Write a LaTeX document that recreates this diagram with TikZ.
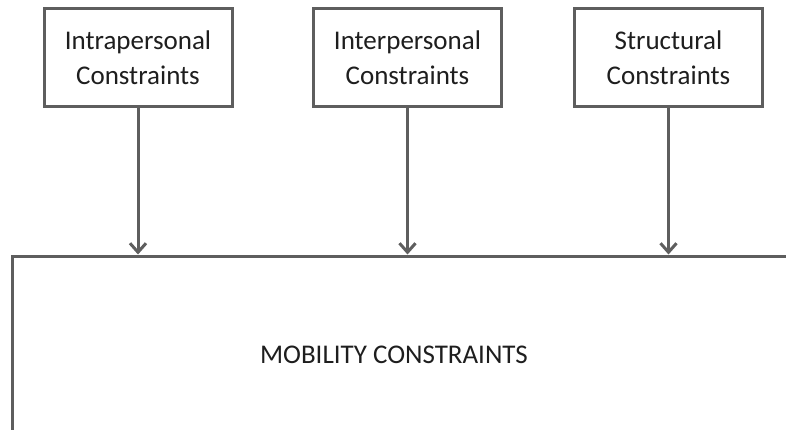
\documentclass[tikz,border=0pt]{standalone}
\usepackage{fontspec}
\setmainfont{Carlito}
\usetikzlibrary{arrows.meta}
\definecolor{edge}{HTML}{5E5E5E}
\definecolor{ink}{HTML}{1E1E1E}
\tikzset{
  box/.style={draw=edge, line width=3pt, fill=white, minimum width=188pt, minimum height=98pt,
    align=center, font=\fontsize{27}{35}\selectfont, text=ink, inner sep=0pt},
  flow/.style={draw=edge, line width=3pt, -{Straight Barb[length=9pt,width=16pt,line width=3pt]}},
}
\begin{document}
\begin{tikzpicture}[x=1pt,y=-1pt]
  \useasboundingbox (0,0) rectangle (786,430);
  \fill[white] (0,0) rectangle (786,430);
  % three constraint groups along the top
  \node[box] (intra) at (138,58) {Intrapersonal\\Constraints};
  \node[box] (inter) at (407.5,58) {Interpersonal\\Constraints};
  \node[box] (struct) at (668.5,58) {Structural\\Constraints};
  % large box that runs past the lower and right edges
  \begin{scope}
    \clip (0,0) rectangle (786,430);
    \node[draw=edge, line width=3pt, minimum width=800pt, minimum height=198pt, inner sep=0pt] (mob) at (412,355) {};
  \end{scope}
  \node[font=\fontsize{27}{35}\selectfont, text=ink] (label) at (394,355) {MOBILITY CONSTRAINTS};
  \coordinate (a1) at (intra.south |- mob.north);
  \coordinate (a2) at (inter.south |- mob.north);
  \coordinate (a3) at (struct.south |- mob.north);
  \draw[flow] (intra.south) -- (a1);
  \draw[flow] (inter.south) -- (a2);
  \draw[flow] (struct.south) -- (a3);
\end{tikzpicture}
\end{document}
